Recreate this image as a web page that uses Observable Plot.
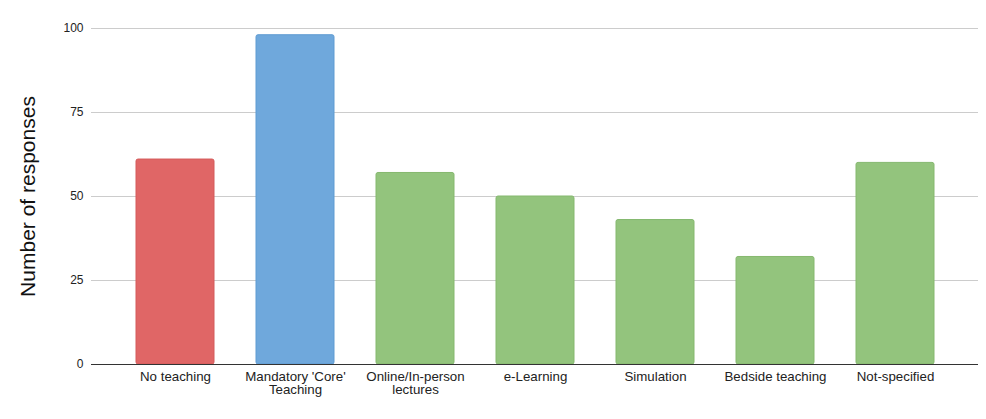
<!DOCTYPE html>
<html>
<head>
<meta charset="utf-8">
<script src="https://cdn.jsdelivr.net/npm/d3@7"></script>
<script src="https://cdn.jsdelivr.net/npm/@observablehq/plot@0.6"></script>
<style>
  html, body { margin: 0; padding: 0; background: #fff; }
  #chart { width: 986px; height: 419px; }
  svg { font-family: "Liberation Sans", Arial, sans-serif; }
</style>
</head>
<body>
<div id="chart"></div>
<script>
const categories = ["No teaching", "Mandatory 'Core'\nTeaching", "Online/In-person\nlectures", "e-Learning", "Simulation", "Bedside teaching", "Not-specified"];
const values = [61, 98, 57, 50, 43, 32, 60];
const barColors = ["#e06666", "#6fa8dc", "#93c47d", "#93c47d", "#93c47d", "#93c47d", "#93c47d"];
const borderColors = ["#d45b5b", "#5f9bd2", "#85b86f", "#85b86f", "#85b86f", "#85b86f", "#85b86f"];
const yTicks = [0, 25, 50, 75, 100];

const data = categories.map((c, i) => ({category: c, value: values[i], fill: barColors[i], stroke: borderColors[i]}));

const chart = Plot.plot({
  width: 986,
  height: 419,
  marginTop: 28,
  marginBottom: 55,
  marginLeft: 91,
  marginRight: 8,
  style: {fontFamily: "'Liberation Sans', Arial, sans-serif", background: "#fff"},
  x: {domain: categories, paddingInner: 0.354, paddingOuter: 0, insetLeft: 43, insetRight: 42, label: null},
  y: {domain: [0, 100], label: null},
  marks: [
    Plot.gridY(yTicks, {stroke: "#cccccc", strokeOpacity: 1, strokeWidth: 1}),
    Plot.axisY(yTicks, {tickSize: 0, tickPadding: 8, fontSize: 12, fill: "#222", label: null}),
    Plot.barY(data, {x: "category", y: "value", fill: "fill", stroke: "stroke", strokeWidth: 1, rx: 2}),
    Plot.ruleY([0], {stroke: "#333", strokeWidth: 1.2}),
    Plot.axisX({tickSize: 0, tickPadding: 7, fontSize: 13.3, lineHeight: 1, fill: "#222", label: null}),
    Plot.text(["Number of responses"], {frameAnchor: "left", textAnchor: "middle", dx: -63, rotate: -90, fontSize: 21, fill: "#111"})
  ]
});
document.getElementById("chart").appendChild(chart);
</script>
</body>
</html>
